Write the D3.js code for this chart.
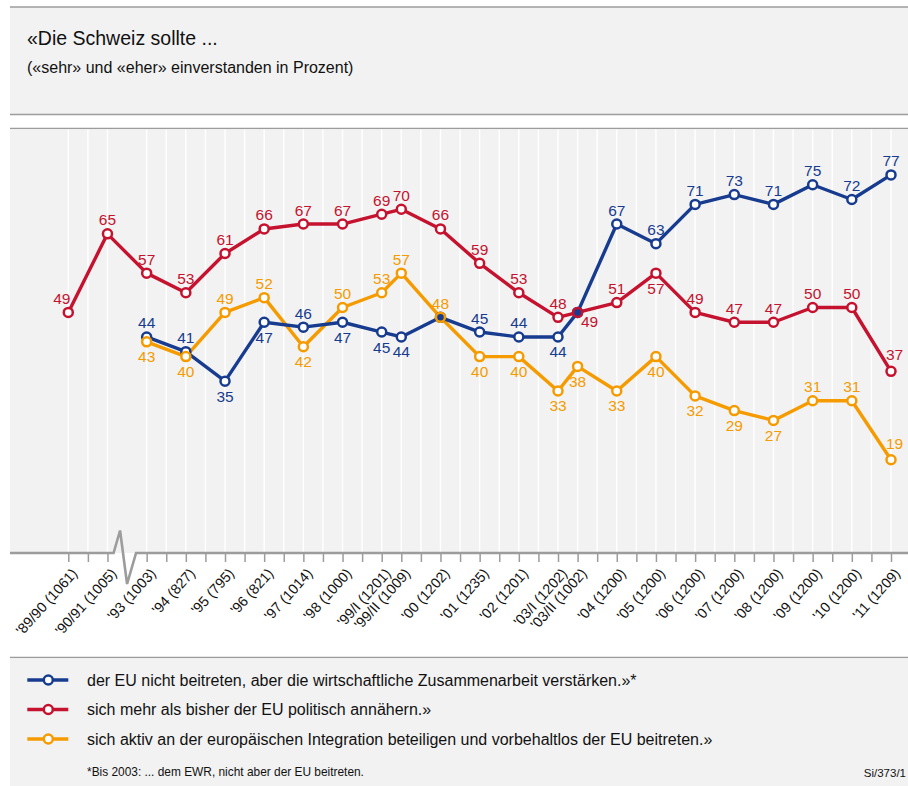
<!DOCTYPE html>
<html>
<head>
<meta charset="utf-8">
<script src="https://cdn.jsdelivr.net/npm/d3@7"></script>
<style>
  html, body { margin: 0; padding: 0; background: #fff; }
  svg { display: block; font-family: "Liberation Sans", Arial, Helvetica, sans-serif; }
</style>
</head>
<body>
<svg id="chart" width="908" height="786"></svg>
<script>
// ---------------- DATA ----------------
const titleText = "«Die Schweiz sollte ...";
const subtitleText = "(«sehr» und «eher» einverstanden in Prozent)";
const categories = ["'89/90 (1061)", "'90/91 (1005)", "'93 (1003)", "'94 (827)", "'95 (795)", "'96 (821)",
  "'97 (1014)", "'98 (1000)", "'99/I (1201)", "'99/II (1009)", "'00 (1202)", "'01 (1235)", "'02 (1201)",
  "'03/I (1202)", "'03/II (1002)", "'04 (1200)", "'05 (1200)", "'06 (1200)", "'07 (1200)", "'08 (1200)",
  "'09 (1200)", "'10 (1200)", "'11 (1209)"];
// survey wave position on the (compressed) time axis, in years
const waveTime = [0, 1, 2, 3, 4, 5, 6, 7, 8, 8.5, 9.5, 10.5, 11.5, 12.5, 13, 14, 15, 16, 17, 18, 19, 20, 21];
const axisBreakTime = 1.5;
const seriesNames = [
  "der EU nicht beitreten, aber die wirtschaftliche Zusammenarbeit verstärken.»*",
  "sich mehr als bisher der EU politisch annähern.»",
  "sich aktiv an der europäischen Integration beteiligen und vorbehaltlos der EU beitreten.»"
];
const blueValues   = [null, null, 44, 41, 35, 47, 46, 47, 45, 44, 48, 45, 44, 44, 49, 67, 63, 71, 73, 71, 75, 72, 77];
const redValues    = [49, 65, 57, 53, 61, 66, 67, 67, 69, 70, 66, 59, 53, 48, 49, 51, 57, 49, 47, 47, 50, 50, 37];
const orangeValues = [null, null, 43, 40, 49, 52, 42, 50, 53, 57, 48, 40, 40, 33, 38, 33, 40, 32, 29, 27, 31, 31, 19];
const footnoteText = "*Bis 2003: ... dem EWR, nicht aber der EU beitreten.";
const sourceText = "Si/373/1";

// ---------------- STYLE ----------------
const colors = ["#173c8f", "#c4122f", "#f59b00"];
// label placement: a = above, A = above shifted right, b = below, r = below-right, l = above-left, n = none
const labelPlace = [
  ["n","n","a","a","b","b","a","b","b","b","n","a","a","b","n","a","a","a","a","a","a","a","a"],
  ["l","a","a","a","a","a","a","a","a","a","a","a","a","a","r","a","b","a","a","a","a","a","A"],
  ["n","n","b","b","a","a","b","a","a","a","a","b","b","b","b","b","b","b","b","b","a","a","A"]
];
const W = 908, H = 786;
const boxLeft = 10;
const gray = "#9c9c9c";
const bg = "#f2f2f2";
const plotTop = 128.5, axisY = 553;

const svg = d3.select("#chart");

// ---------------- SCALES ----------------
const x = d3.scaleLinear().domain([0, 21]).range([68.3, 891]);
const y = d3.scaleLinear().domain([0, 100]).range([axisY, axisY - 491]);

// ---------------- HEADER ----------------
svg.append("rect").attr("x", boxLeft).attr("y", 7).attr("width", W - boxLeft).attr("height", 107.5).attr("fill", bg);
[7, 114.5, plotTop].forEach(yy => svg.append("line").attr("x1", boxLeft).attr("x2", W).attr("y1", yy).attr("y2", yy)
  .attr("stroke", gray).attr("stroke-width", 1.6));
svg.append("text").attr("x", 27).attr("y", 45).attr("font-size", 19.5).attr("fill", "#111").text(titleText);
svg.append("text").attr("x", 27).attr("y", 72.5).attr("font-size", 16).attr("fill", "#111").text(subtitleText);

// ---------------- PLOT BACKGROUND ----------------
svg.append("rect").attr("x", boxLeft).attr("y", plotTop + 0.8).attr("width", W - boxLeft).attr("height", axisY - plotTop - 0.8).attr("fill", bg);

const gridVals = d3.range(0, 21.001, 0.5).filter(v => v !== axisBreakTime);
svg.append("g").selectAll("line").data(gridVals).join("line")
  .attr("x1", d => x(d)).attr("x2", d => x(d)).attr("y1", plotTop + 1).attr("y2", axisY)
  .attr("stroke", "#ffffff").attr("stroke-width", 1.4);

// ---------------- AXIS ----------------
const xAxis = d3.axisBottom(x).tickValues(gridVals).tickSize(9).tickFormat("");
const axG = svg.append("g").attr("transform", `translate(0,${axisY})`).call(xAxis);
axG.select(".domain").remove();
axG.selectAll(".tick line").attr("stroke", gray).attr("stroke-width", 1.5);

const bx = x(axisBreakTime);
const breakPath = d3.line()([[boxLeft, axisY], [bx - 13.5, axisY], [bx - 7, 530.5], [bx, 584], [bx + 9, axisY], [W, axisY]]);
svg.append("path").attr("d", breakPath).attr("fill", "none").attr("stroke", gray).attr("stroke-width", 2.6)
  .attr("stroke-linejoin", "miter");

svg.append("g").selectAll("text").data(categories).join("text")
  .attr("transform", (d, i) => `translate(${x(waveTime[i]) + 10},${axisY + 21}) rotate(-48)`)
  .attr("text-anchor", "end").attr("font-size", 14.3).attr("fill", "#111").text(d => d);

// ---------------- SERIES ----------------
const allValues = [blueValues, redValues, orangeValues];
const line = d3.line().defined(d => d.v !== null).x(d => x(d.t)).y(d => y(d.v));
const seriesData = allValues.map(vals => vals.map((v, i) => ({ t: waveTime[i], v: v, i: i })));

// draw order: orange, red, blue lines
[2, 1, 0].forEach(s => {
  svg.append("path").datum(seriesData[s]).attr("d", line).attr("fill", "none")
    .attr("stroke", colors[s]).attr("stroke-width", 3.4).attr("stroke-linejoin", "round");
});

// markers: coinciding blue points shown as filled dot inside the other series' ring
[0, 1, 2].forEach(s => {
  const pts = seriesData[s].filter(d => d.v !== null);
  svg.append("g").selectAll("circle").data(pts).join("circle")
    .attr("cx", d => x(d.t)).attr("cy", d => y(d.v)).attr("r", 4.5)
    .attr("fill", d => (s > 0 && blueValues[d.i] === d.v) ? colors[0] : "#fff")
    .attr("stroke", colors[s]).attr("stroke-width", 2.5);
});

// labels
[0, 1, 2].forEach(s => {
  const pts = seriesData[s].filter(d => d.v !== null && labelPlace[s][d.i] !== "n");
  svg.append("g").selectAll("text").data(pts).join("text")
    .attr("x", d => {
      const p = labelPlace[s][d.i];
      return x(d.t) + (p === "l" ? -6.5 : p === "r" ? 12 : p === "A" ? 3.5 : 0);
    })
    .attr("y", d => {
      const p = labelPlace[s][d.i];
      return y(d.v) + (p === "b" ? 20.5 : p === "r" ? 14.5 : p === "A" ? -11 : -8.5);
    })
    .attr("text-anchor", "middle").attr("font-size", 15.5).attr("fill", colors[s]).text(d => d.v);
});

// ---------------- LEGEND ----------------
svg.append("line").attr("x1", boxLeft).attr("x2", W).attr("y1", 657.5).attr("y2", 657.5).attr("stroke", gray).attr("stroke-width", 1.6);
svg.append("rect").attr("x", boxLeft).attr("y", 658.3).attr("width", W - boxLeft).attr("height", H - 658.3).attr("fill", bg);

const legRowY = [680, 709.5, 739];
const lg = svg.append("g").selectAll("g").data(seriesNames).join("g")
  .attr("transform", (d, i) => `translate(0,${legRowY[i]})`);
lg.append("line").attr("x1", 27.3).attr("x2", 68.3).attr("stroke", (d, i) => colors[i]).attr("stroke-width", 3.4);
lg.append("circle").attr("cx", 48.3).attr("r", 4.5).attr("fill", "#fff").attr("stroke", (d, i) => colors[i]).attr("stroke-width", 2.5);
lg.append("text").attr("x", 87).attr("y", 5.5).attr("font-size", 16).attr("fill", "#111").text(d => d);

svg.append("text").attr("x", 87).attr("y", 776).attr("font-size", 11.9).attr("fill", "#111").text(footnoteText);
svg.append("text").attr("x", 906).attr("y", 777).attr("text-anchor", "end").attr("font-size", 11.5).attr("fill", "#111").text(sourceText);
</script>
</body>
</html>
